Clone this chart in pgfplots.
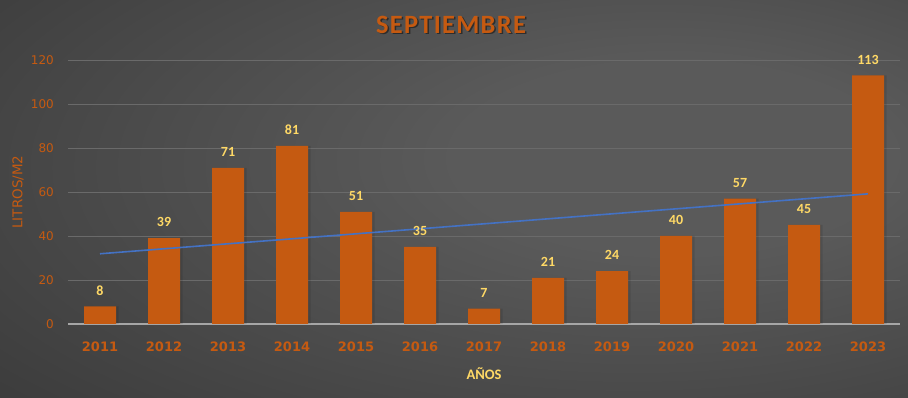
\documentclass[border=0pt]{standalone}
\usepackage{pgfplots}
\pgfplotsset{compat=1.18}
\usepackage{fontspec}
\setmainfont{DejaVu Sans}
\newfontfamily\carlito{Carlito}
\definecolor{barorange}{HTML}{C55A11}
\definecolor{lab}{HTML}{FFD966}
\definecolor{trend}{HTML}{4472C4}
\definecolor{gridc}{HTML}{6A6A6A}
\definecolor{basec}{HTML}{A6A6A6}
\definecolor{bgin}{HTML}{5A5A5A}
\definecolor{bgout}{HTML}{2A2A2A}
\pgfdeclareradialshading{bgshade}{\pgfpoint{14bp}{6bp}}{color(0bp)=(bgin); color(12bp)=(bgin); color(62bp)=(bgout); color(90bp)=(bgout)}
\begin{document}
\begin{tikzpicture}[x=1pt,y=1pt]
\shade[shading=bgshade] (0,0) rectangle (908,398);
\useasboundingbox (0,0) rectangle (908,398);
\begin{axis}[
  at={(68pt,74pt)}, anchor=south west,
  scale only axis, width=832pt, height=264pt,
  xmin=-0.5, xmax=12.5, ymin=0, ymax=120,
  /pgf/number format/assume math mode=true,
  xtick={0,...,12},
  xticklabels={2011,2012,2013,2014,2015,2016,2017,2018,2019,2020,2021,2022,2023},
  ytick={0,20,...,120},
  axis line style={draw=none},
  major tick length=0pt,
  tick style={draw=none},
  ymajorgrids,
  grid style={draw=gridc, line width=0.8pt},
  extra y ticks={0}, extra y tick labels={},
  extra y tick style={grid style={draw=basec, line width=1.8pt}},
  yticklabel style={font=\fontsize{12}{12}\selectfont, color=barorange, anchor=east, inner sep=0pt, xshift=-14pt},
  xticklabel style={font=\bfseries\fontsize{13}{13}\selectfont, color=barorange, anchor=north, inner sep=0pt, yshift=-18pt},
  clip=false,
]
\addplot[ybar, bar width=34pt, bar shift=1.5pt, fill=black, opacity=0.1, draw=none]
  coordinates {(0,8) (1,39) (2,71) (3,81) (4,51) (5,35) (6,7) (7,21) (8,24) (9,40) (10,57) (11,45) (12,113)};
\addplot[ybar, bar width=32pt, bar shift=0pt, fill=barorange, draw=none,
  nodes near coords,
  nodes near coords style={font=\carlito\bfseries\fontsize{14}{14}\selectfont, color=lab, anchor=south, inner sep=0pt, yshift=11pt}]
  coordinates {(0,8) (1,39) (2,71) (3,81) (4,51) (5,35) (6,7) (7,21) (8,24) (9,40) (10,57) (11,45) (12,113)};
\addplot[trend, line width=1.6pt, no marks, sharp plot]
  coordinates {(0,31.92) (12,59.15)};
\end{axis}
\node[font=\carlito\bfseries\fontsize{26.4}{27}\selectfont\addfontfeatures{LetterSpace=5}, text=black, opacity=0.45] at (452.5,372) {SEPTIEMBRE};
\node[font=\carlito\bfseries\fontsize{26.4}{27}\selectfont\addfontfeatures{LetterSpace=5}, text=barorange] at (451,373.5) {SEPTIEMBRE};
\node[font=\fontsize{13.5}{14}\selectfont, text=barorange, rotate=90] at (18,206) {LITROS/M2};
\node[font=\carlito\bfseries\fontsize{14.5}{15}\selectfont, text=lab] at (484,24) {AÑOS};
\end{tikzpicture}
\end{document}
